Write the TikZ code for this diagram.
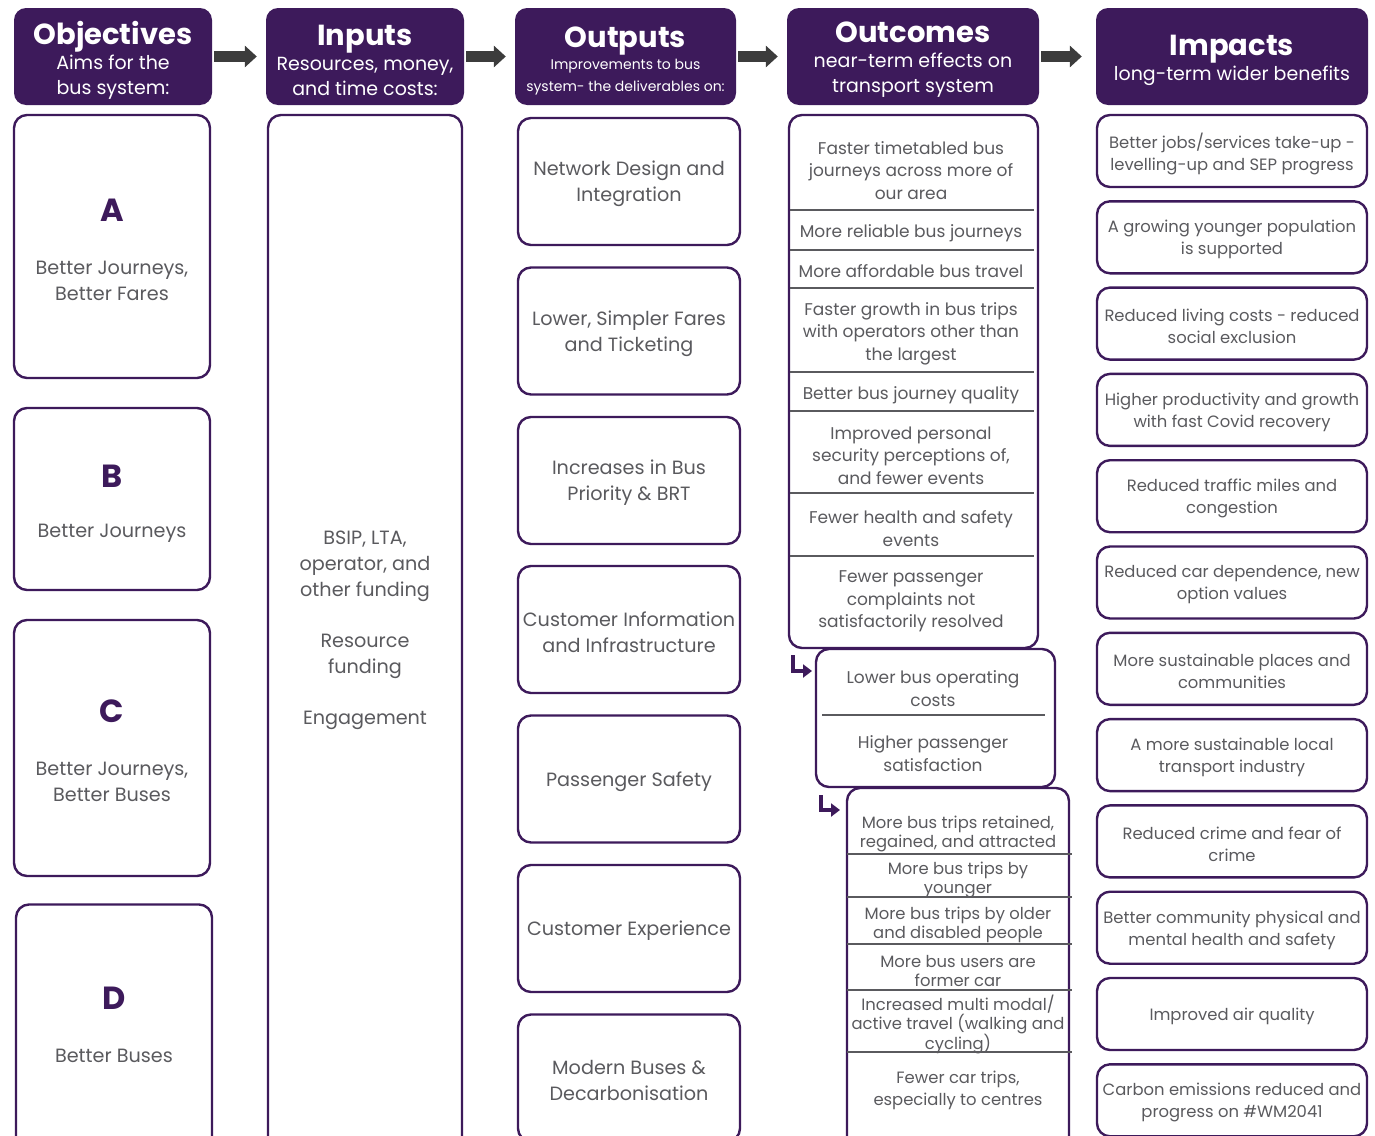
\documentclass[tikz,border=0pt]{standalone}
\usepackage{fontspec}
\setmainfont{Poppins}
\usetikzlibrary{arrows.meta}
\definecolor{wmpurple}{HTML}{3D1A5B}
\definecolor{wmgrey}{HTML}{5A5A5E}
\definecolor{flowgrey}{HTML}{3C3C3C}
\newcommand{\fsz}[2]{\fontsize{#1}{#2}\selectfont}
\begin{document}
\begin{tikzpicture}[x=1pt,y=-1pt,
	head/.style={fill=wmpurple,rounded corners=12pt,inner sep=0pt},
	headtxt/.style={text=white,align=center,inner sep=0pt,font=\fsz{19}{25}},
	card/.style={draw=wmpurple,line width=2.4pt,rounded corners=13pt,fill=white,inner sep=0pt},
	lbl/.style={text=wmgrey,align=center,inner sep=0pt,yshift=-2.5pt,font=\fsz{17}{22.5}},
	big/.style={lbl,font=\fsz{19.2}{26}},
	impt/.style={lbl,font=\fsz{16.4}{22}},
	tight/.style={lbl,font=\fsz{16.4}{19}},
	letter/.style={text=wmpurple,font=\fsz{32}{32}\bfseries},
	flow/.style={draw=flowgrey,line width=11pt,-{Triangle[length=12pt,width=21pt]},shorten <=2pt,shorten >=9pt},
	turn/.style={draw=wmpurple,line width=3.5pt,-{Triangle[length=9pt,width=13pt]}},
	sep/.style={draw=wmgrey,line width=1.1pt}]
	\clip (0,0) rectangle (1375,1135);
	\fill[white] (0,0) rectangle (1375,1135);
	% headers
	\node[head,minimum width=198pt,minimum height=97pt] (obj) at (113,56.5) {};
	\node[head,minimum width=198pt,minimum height=97pt] (inp) at (365,56.5) {};
	\node[head,minimum width=221pt,minimum height=97pt] (outp) at (625.5,56.5) {};
	\node[head,minimum width=252pt,minimum height=97pt] (outc) at (913,56.5) {};
	\node[head,minimum width=272pt,minimum height=97pt] (imp) at (1232,56.5) {};
	\node[headtxt] (objt) at (113,60) {{\fsz{29}{30}\bfseries Objectives}\\Aims for the\\bus system:};
	\node[headtxt] (inpt) at (365,60) {{\fsz{29}{30}\bfseries Inputs}\\Resources, money,\\and time costs:};
	\node[headtxt] (outpt) at (625.5,61) {{\fsz{29}{30}\bfseries Outputs}\\[-3pt]{\fsz{14}{19}Improvements to bus}\\[-3pt]{\fsz{14}{19}system- the deliverables on:}};
	\node[headtxt] (outct) at (913,60) {{\fsz{29}{30}\bfseries Outcomes}\\near-term effects on\\transport system};
	\node[headtxt] (impt) at (1232,60) {{\fsz{29}{30}\bfseries Impacts}\\long-term wider benefits};
	\draw[flow] (obj) -- (inp);
	\draw[flow] (inp) -- (outp);
	\draw[flow] (outp) -- (outc);
	\draw[flow,shorten >=14pt] (outc) -- (imp);
	% objectives
	\node[card,minimum width=196pt,minimum height=263pt] (ca) at (112,246.5) {};
	\node[card,minimum width=196pt,minimum height=182pt] (cb) at (112,499) {};
	\node[card,minimum width=196pt,minimum height=256pt] (cc) at (112,748) {};
	\node[card,minimum width=196pt,minimum height=255pt] (cd) at (114,1032) {};
	\node[letter] (la) at (112,210) {A};
	\node[big] (ta) at (112,278) {Better Journeys,\\Better Fares};
	\node[letter] (lb) at (112,476) {B};
	\node[big] (tb) at (112,531) {Better Journeys};
	\node[letter] (lc) at (112,711) {C};
	\node[big] (tc) at (112,779) {Better Journeys,\\Better Buses};
	\node[letter] (ld) at (114,998) {D};
	\node[big] (td) at (114,1053) {Better Buses};
	% inputs
	\node[card,minimum width=194pt,minimum height=1045pt] (ci) at (365,637.5) {};
	\node[big] (ti) at (365,628) {BSIP, LTA,\\operator, and\\other funding\\[25pt]Resource\\funding\\[25pt]Engagement};
	% outputs
	\node[card,minimum width=222pt,minimum height=127pt] (o1) at (629,181.5) {};
	\node[big] at (o1) {Network Design and\\Integration};
	\node[card,minimum width=222pt,minimum height=127pt] (o2) at (629,331) {};
	\node[big] at (o2) {Lower, Simpler Fares\\and Ticketing};
	\node[card,minimum width=222pt,minimum height=127pt] (o3) at (629,480.5) {};
	\node[big] at (o3) {Increases in Bus\\Priority \& BRT};
	\node[card,minimum width=222pt,minimum height=127pt] (o4) at (629,629.5) {};
	\node[big] at (o4) {Customer Information\\and Infrastructure};
	\node[card,minimum width=222pt,minimum height=127pt] (o5) at (629,779) {};
	\node[big] at (o5) {Passenger Safety};
	\node[card,minimum width=222pt,minimum height=127pt] (o6) at (629,928.5) {};
	\node[big] at (o6) {Customer Experience};
	\node[card,minimum width=222pt,minimum height=127pt] (o7) at (629,1078) {};
	\node[big] at (o7) {Modern Buses \&\\Decarbonisation};
	% outcomes
	\node[card,minimum width=249pt,minimum height=533pt] (k1) at (913.5,381.5) {};
	\draw[sep] (790,210) -- (1034,210) (790,250) -- (1034,250) (790,288) -- (1034,288) (790,372) -- (1034,372)
		(790,411) -- (1034,411) (790,493) -- (1034,493) (790,556) -- (1034,556);
	\node[lbl] (k11) at (911,168) {Faster timetabled bus\\journeys across more of\\our area};
	\node[lbl] (k12) at (911,231) {More reliable bus journeys};
	\node[lbl] (k13) at (911,269) {More affordable bus travel};
	\node[lbl] (k14) at (911,331) {Faster growth in bus trips\\with operators other than\\the largest};
	\node[lbl] (k15) at (911,393) {Better bus journey quality};
	\node[lbl] (k16) at (911,453) {Improved personal\\security perceptions of,\\and fewer events};
	\node[lbl] (k17) at (911,526) {Fewer health and safety\\events};
	\node[lbl] (k18) at (911,599) {Fewer passenger\\complaints not\\satisfactorily resolved};
	\node[card,minimum width=239pt,minimum height=138pt] (k2) at (935.5,718) {};
	\draw[sep] (822,715) -- (1045,715);
	\node[lbl] (k21) at (933,686) {Lower bus operating\\costs};
	\node[lbl] (k22) at (933,751) {Higher passenger\\satisfaction};
	\node[card,minimum width=222pt,minimum height=372pt] (k3) at (958,974) {};
	\draw[sep] (847,854) -- (1072,854) (847,897) -- (1072,897) (847,944) -- (1072,944) (847,990) -- (1072,990) (847,1052) -- (1072,1052);
	\node[tight] (k31) at (958,831) {More bus trips retained,\\regained, and attracted};
	\node[tight] (k32) at (958,877) {More bus trips by\\younger};
	\node[tight] (k33) at (958,922) {More bus trips by older\\and disabled people};
	\node[tight] (k34) at (958,968) {More bus users are\\former car};
	\node[tight] (k35) at (958,1022) {Increased multi modal/\\active travel (walking and\\cycling)};
	\node[impt] (k36) at (958,1088) {Fewer car trips,\\especially to centres};
	\coordinate (t1a) at (793,655);
	\coordinate (t1b) at (812,671);
	\coordinate (t2a) at (821,795);
	\coordinate (t2b) at (840,810);
	\draw[turn] (t1a) |- (t1b);
	\draw[turn] (t2a) |- (t2b);
	% impacts
	\foreach \t [count=\i from 0] in {{Better jobs/services take-up -\\levelling-up and SEP progress},
		{A growing younger population\\is supported},{Reduced living costs - reduced\\social exclusion},
		{Higher productivity and growth\\with fast Covid recovery},{Reduced traffic miles and\\congestion},
		{Reduced car dependence, new\\option values},{More sustainable places and\\communities},
		{A more sustainable local\\transport industry},{Reduced crime and fear of\\crime},
		{Better community physical and\\mental health and safety},{Improved air quality},
		{Carbon emissions reduced and\\progress on \#WM2041}}{
		\node[card,minimum width=270pt,minimum height=72pt] (m\i) at (1232,{151+86.3*\i}) {};
		\node[impt] at (m\i) {\t};
	}
\end{tikzpicture}
\end{document}
